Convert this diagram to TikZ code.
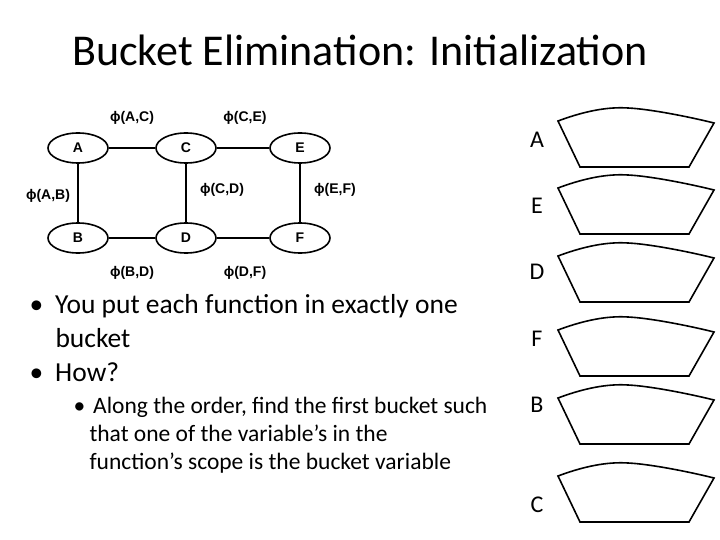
\documentclass[tikz,border=0pt]{standalone}
\usepackage{fontspec}
\setmainfont{Carlito}
\newfontfamily\grf{Liberation Sans}
\usetikzlibrary{shapes.geometric}
\tikzset{
	var/.style={ellipse, draw, line width=1.6pt, minimum width=60pt, minimum height=30pt,
		inner sep=0pt, font=\grf\bfseries\fontsize{14}{16}\selectfont},
	fn/.style={font=\grf\bfseries\fontsize{14}{16}\selectfont},
	edge/.style={line width=1.6pt},
	bucket/.style={line width=1.6pt},
	blabel/.style={font=\fontsize{24}{28}\selectfont}
}
\begin{document}
\begin{tikzpicture}[x=1pt, y=-1pt]
	\useasboundingbox (0,0) rectangle (720,540);
	\node[font=\fontsize{44}{50}\selectfont] (title) at (360,50) {Bucket Elimination: Initialization};
	% graph
	\node[var] (A) at (78,148) {A};
	\node[var] (C) at (186,148) {C};
	\node[var] (E) at (300,148) {E};
	\node[var] (B) at (78,238) {B};
	\node[var] (D) at (186,238) {D};
	\node[var] (F) at (300,238) {F};
	\draw[edge] (A) -- (C);
	\draw[edge] (C) -- (E);
	\draw[edge] (A) -- (B);
	\draw[edge] (C) -- (D);
	\draw[edge] (E) -- (F);
	\draw[edge] (B) -- (D);
	\draw[edge] (D) -- (F);
	\node[fn] (fAC) at (132,118) {ϕ(A,C)};
	\node[fn] (fCE) at (245,118) {ϕ(C,E)};
	\node[fn] (fAB) at (48,196) {ϕ(A,B)};
	\node[fn] (fCD) at (222,190) {ϕ(C,D)};
	\node[fn] (fEF) at (335,190) {ϕ(E,F)};
	\node[fn] (fBD) at (132,273) {ϕ(B,D)};
	\node[fn] (fDF) at (245,273) {ϕ(D,F)};
	% text
	\node[anchor=north west, align=left, font=\fontsize{27.5}{34}\selectfont] (txt) at (26,291)
		{\textbullet\hspace{12pt}You put each function in exactly one\\
		\hspace{26pt}bucket\\
		\textbullet\hspace{12pt}How?};
	\node[anchor=north west, align=left, font=\fontsize{23.5}{28}\selectfont] (sub) at (70,394)
		{\textbullet\hspace{8pt}Along the order, find the first bucket such\\
		\hspace{16pt}that one of the variable’s in the\\
		\hspace{16pt}function’s scope is the bucket variable};
	% buckets
	\foreach \v/\t/\l in {A/121/140, E/188/206, D/256/272, F/330/339, B/398/405, C/476/505}{
		\node[blabel] (lbl\v) at (537,\l) {\v};
		\draw[bucket] (558,\t) .. controls (590,\t-12) and (612,\t-14) .. (628,\t-13)
			.. controls (650,\t-12) and (690,\t-4) .. (714,\t+2)
			-- (689,\t+46) -- (580,\t+46) -- cycle;
	}
\end{tikzpicture}
\end{document}
